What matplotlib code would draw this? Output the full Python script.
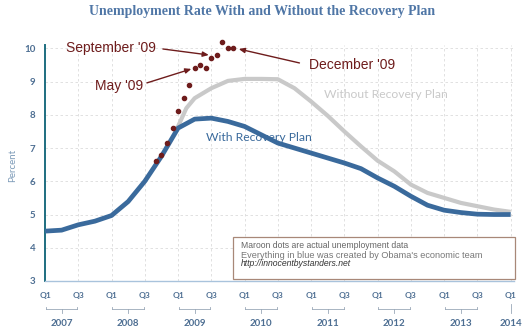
import numpy as np
import matplotlib
matplotlib.use('Agg')
import matplotlib.pyplot as plt
import matplotlib.transforms as mtrans
from matplotlib.patches import Rectangle

# x positions are in quarters, 0 = Q1 2007
quarters = list(range(29))
with_plan = [4.50, 4.53, 4.69, 4.80, 4.97, 5.39, 6.00, 6.75, 7.60, 7.87,
             7.90, 7.80, 7.65, 7.40, 7.15, 7.00, 6.85, 6.70, 6.55, 6.38,
             6.10, 5.85, 5.55, 5.28, 5.13, 5.06, 5.01, 5.00, 5.00]
without_q = [7.9, 8, 8.5, 9, 10, 11, 12, 13, 14, 15, 16, 17, 18, 19, 20,
             21, 22, 23, 24, 25, 26, 27, 28]
without_plan = [7.60, 7.65, 8.20, 8.50, 8.80, 9.02, 9.08, 9.08, 9.07, 8.80, 8.40,
                7.97, 7.50, 7.05, 6.62, 6.30, 5.90, 5.65, 5.50, 5.35, 5.25,
                5.15, 5.08]

# actual monthly data (month index, 0 = Jan 2007)
dot_month = [20, 21, 22, 23, 24, 25, 26, 27, 28, 29, 30, 31, 32, 33, 34]
dot_rate = [6.6, 6.8, 7.15, 7.6, 8.1, 8.5, 8.9, 9.4, 9.5, 9.4, 9.7, 9.8,
            10.2, 10.0, 10.0]

years = ['2007', '2008', '2009', '2010', '2011', '2012', '2013']
tick_q = list(range(0, 29, 2))
tick_lbl = ['Q1', 'Q3'] * 7 + ['Q1']

maroon = '#6e1c1c'
blue = '#3a6a9c'
grey = '#c9c9c9'
axcol = '#4d6e92'

fig = plt.figure(figsize=(5.3, 3.34), dpi=100)
ax = fig.add_axes([45/530, 1-281/334, 469/530, (281-45)/334])
ax.set_xlim(0, 28.2)
ax.set_ylim(3, 10.1)

for q in tick_q:
    ax.axvline(q, color='#dcdcdc', lw=0.6, ls=(0, (3, 3)), zorder=0)
for v in range(4, 11):
    ax.axhline(v, color='#dcdcdc', lw=0.6, ls=(0, (3, 3)), zorder=0)

ax.plot(without_q, without_plan, color=grey, lw=3.0, solid_capstyle='butt',
        solid_joinstyle='round', zorder=2)
ax.plot(quarters, with_plan, color=blue, lw=3.4, solid_capstyle='butt',
        solid_joinstyle='round', zorder=3)
ax.plot(np.array(dot_month) / 3, dot_rate, 'o', color=maroon, ms=3.0,
        clip_on=False, zorder=4)

for s in ['top', 'right']:
    ax.spines[s].set_visible(False)
ax.spines['left'].set_color('#1e6e80')
ax.spines['left'].set_linewidth(1.4)
ax.spines['bottom'].set_color('#a9c3dc')
ax.spines['bottom'].set_linewidth(1.0)

ax.set_yticks(range(3, 11))
ax.set_yticklabels([str(v) for v in range(3, 11)])
ax.tick_params(axis='y', length=0, pad=7, labelsize=7, labelcolor=axcol)
ax.set_xticks(tick_q)
ax.set_xticklabels(tick_lbl)
ax.tick_params(axis='x', length=0, pad=8, labelsize=6, labelcolor=axcol)
for t in ax.get_yticklabels() + ax.get_xticklabels():
    t.set_fontfamily('Lato')
    t.set_fontweight('bold')

fig.text(13/530, 1-165/334, 'Percent', rotation=90, ha='center', va='center',
         fontsize=7, color='#7d9bb8', family='Lato')

# year brackets under the ticks
tr = mtrans.blended_transform_factory(ax.transData, fig.transFigure)
yb = 1 - 309/334
for i, yr in enumerate(years):
    q0 = 4 * i
    ax.plot([q0 + 0.05, q0 + 1.95], [yb, yb], transform=tr, color='#9aa8b8',
            lw=0.6, clip_on=False)
    ax.plot([q0 + 1, q0 + 1], [yb, yb - 4/334], transform=tr, color='#9aa8b8',
            lw=0.6, clip_on=False)
    for e in (q0 + 0.05, q0 + 1.95):
        ax.plot([e, e], [yb, yb + 2/334], transform=tr, color='#9aa8b8',
                lw=0.6, clip_on=False)
    ax.text(q0 + 1, 1 - 323/334, yr, transform=tr, ha='center', va='center',
            fontsize=7, color=axcol, family='Lato', fontweight='bold')
ax.plot([28, 28], [1 - 304/334, 1 - 313/334], transform=tr, color='#9aa8b8',
        lw=0.6, clip_on=False)
ax.text(28, 1 - 323/334, '2014', transform=tr, ha='center', va='center',
        fontsize=7, color=axcol, family='Lato', fontweight='bold')

fig.text(262/530, 1-12/334, 'Unemployment Rate With and Without the Recovery Plan',
         ha='center', va='center', fontsize=10, color='#4f76a6',
         family='Liberation Serif', fontweight='bold')

ax.text(9.7, 7.32, 'With Recovery Plan', fontsize=8.7, color=blue,
        family='Lato', va='center', ha='left')
ax.text(16.8, 8.6, 'Without Recovery Plan', fontsize=8.7, color=grey,
        family='Lato', va='center', ha='left')

# annotations
arrow = dict(arrowstyle='-|>,head_length=0.35,head_width=0.15', color=maroon, lw=1.0,
             shrinkA=0, shrinkB=0)
ax.text(6.67, 10.0, "September '09", ha='right', va='center', fontsize=10,
        color=maroon, family='Liberation Sans')
ax.annotate('', xy=(9.85, 9.8), xytext=(7.09, 9.98), arrowprops=arrow,
            annotation_clip=False)
ax.text(5.9, 8.88, "May '09", ha='right', va='center', fontsize=10,
        color=maroon, family='Liberation Sans')
ax.annotate('', xy=(8.8, 9.38), xytext=(6.13, 8.96), arrowprops=arrow,
            annotation_clip=False)
ax.text(15.9, 9.5, "December '09", ha='left', va='center', fontsize=10,
        color=maroon, family='Liberation Sans')
ax.annotate('', xy=(11.65, 9.98), xytext=(15.3, 9.56), arrowprops=arrow,
            annotation_clip=False)

# note box
fig.patches.append(Rectangle((233/530, 1-279/334), 282/530, 42/334,
                             transform=fig.transFigure, facecolor='white',
                             edgecolor='#a88878', lw=0.9, zorder=5))
fig.text(241/530, 1-245/334, 'Maroon dots are actual unemployment data',
         fontsize=6.2, color='#666666', family='Liberation Sans', va='center', zorder=6)
fig.text(241/530, 1-255/334, "Everything in blue was created by Obama's economic team",
         fontsize=6.6, color='#777777', family='Liberation Sans', va='center', zorder=6)
fig.text(241/530, 1-264/334, 'http://innocentbystanders.net',
         fontsize=6.2, color='#333333', family='Liberation Sans', style='italic',
         va='center', zorder=6)

fig.savefig('out.png', dpi=100)
